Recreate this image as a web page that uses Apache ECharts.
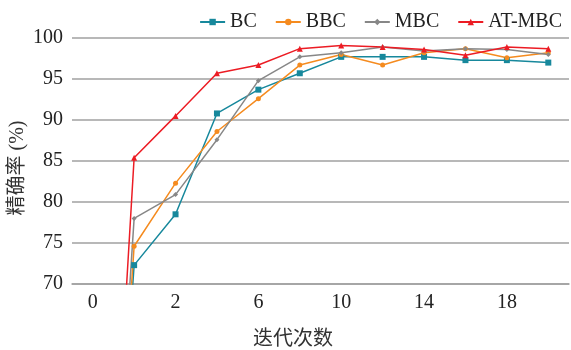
<!DOCTYPE html>
<html>
<head>
<meta charset="utf-8">
<script src="https://cdn.jsdelivr.net/npm/echarts@6/dist/echarts.min.js"></script>
<style>
html,body{margin:0;padding:0;background:#fff;}
#c{width:571px;height:350px;}
</style>
</head>
<body>
<div id="c"></div>
<script>
var categories = ['0','1','2','4','6','8','10','12','14','16','18','20'];
var seriesNames = ['BC','BBC','MBC','AT-MBC'];
var bcValues    = [0, 72.3, 78.5, 90.8, 93.7, 95.7, 97.7, 97.7, 97.7, 97.3, 97.3, 97.0];
var bbcValues   = [0, 74.6, 82.3, 88.6, 92.6, 96.7, 98.0, 96.7, 98.2, 98.7, 97.6, 98.2];
var mbcValues   = [0, 78.0, 80.9, 87.6, 94.8, 97.7, 98.2, 98.9, 98.4, 98.7, 98.6, 98.0];
var atmbcValues = [0, 85.4, 90.5, 95.7, 96.7, 98.7, 99.1, 98.9, 98.6, 97.9, 98.9, 98.7];
var yTicks = [70, 75, 80, 85, 90, 95, 100];

var FONT = "'Liberation Serif', 'Noto Sans CJK SC', serif";
var colors = ['#17889c', '#f58b1f', '#878787', '#ec1c24'];
var symbols = ['rect', 'circle', 'diamond', 'triangle'];
var sizes = [6, 5, 5, 6];
var allValues = [bcValues, bbcValues, mbcValues, atmbcValues];

var chart = echarts.init(document.getElementById('c'), null, {renderer: 'canvas'});
var series = seriesNames.map(function (name, i) {
  return {
    name: name,
    type: 'line',
    data: allValues[i],
    symbol: symbols[i],
    symbolSize: sizes[i],
    showAllSymbol: true,
    clip: true,
    lineStyle: {color: colors[i], width: 1.5},
    itemStyle: {color: colors[i]},
    animation: false
  };
});
chart.setOption({
  animation: false,
  color: colors,
  textStyle: {fontFamily: FONT},
  legend: {
    data: seriesNames,
    right: 4,
    top: 7,
    itemWidth: 25,
    itemHeight: 8,
    itemGap: 18,
    textStyle: {fontFamily: FONT, fontSize: 20, color: '#222'}
  },
  grid: {left: 72, right: 2, top: 38, bottom: 66, containLabel: false, outerBoundsMode: 'none'},
  xAxis: {
    type: 'category',
    data: categories,
    boundaryGap: true,
    name: '迭代次数',
    nameLocation: 'middle',
    nameGap: 46,
    nameMoveOverlap: false,
    nameTextStyle: {fontFamily: FONT, fontSize: 20, color: '#333', padding: [0, 55, 0, 0]},
    axisLine: {lineStyle: {color: '#a0a0a0', width: 1.5}},
    axisTick: {show: false},
    axisLabel: {interval: 1, margin: 9, fontFamily: FONT, fontSize: 20, color: '#222'}
  },
  yAxis: {
    type: 'value',
    min: yTicks[0],
    max: yTicks[yTicks.length - 1],
    interval: 5,
    name: '精确率 (%)',
    nameLocation: 'middle',
    nameGap: 44,
    nameMoveOverlap: false,
    nameTextStyle: {fontFamily: FONT, fontSize: 20, color: '#333', padding: [0, 14, 0, 0]},
    axisLine: {show: false},
    axisTick: {show: false},
    splitLine: {lineStyle: {color: '#a0a0a0', width: 1.5}},
    axisLabel: {margin: 9, fontFamily: FONT, fontSize: 20, color: '#222'}
  },
  series: series
});
</script>
</body>
</html>
